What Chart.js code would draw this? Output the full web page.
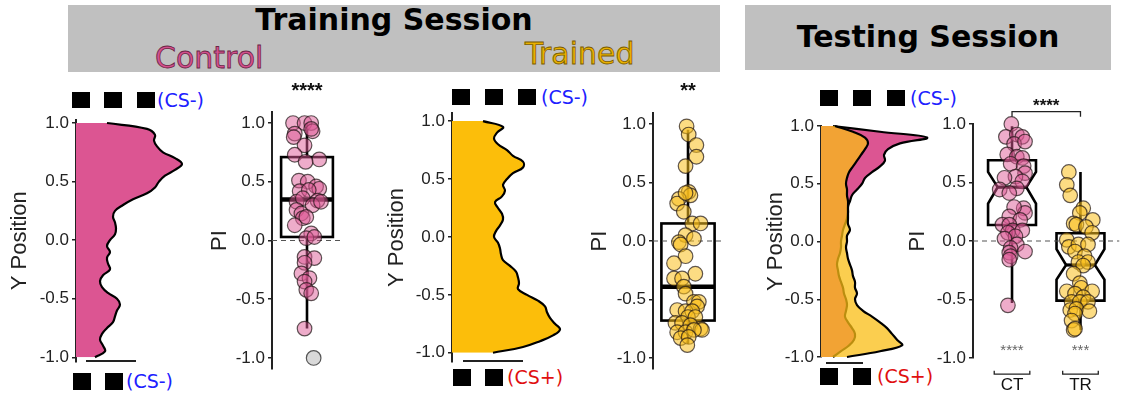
<!DOCTYPE html>
<html>
<head>
<meta charset="utf-8">
<script src="https://cdn.jsdelivr.net/npm/chart.js@4.4.1/dist/chart.umd.min.js"></script>
<style>
  body { margin: 0; background: #fff; }
  #fig { position: relative; width: 1128px; height: 394px; overflow: hidden; font-family: "DejaVu Sans", sans-serif; }
  #fig canvas { position: absolute; top: 78px; }
  .band { position: absolute; background: #c0c0c0; }
  .lab { position: absolute; white-space: nowrap; line-height: 1; }
  .head { font-weight: bold; font-size: 30px; color: #000; text-align: center; }
  .grp { font-size: 30px; }
  .cs { font-size: 19px; }
  .sq { position: absolute; width: 18px; height: 16px; background: #000; }
  .bar { position: absolute; height: 2px; background: #222; }
</style>
</head>
<body>
<div id="fig">
  <div class="band" style="left:68px;top:5px;width:652px;height:67px"></div>
  <div class="band" style="left:745px;top:5px;width:366px;height:65px"></div>
  <div class="lab head" style="left:68px;top:5px;width:652px">Training Session</div>
  <div class="lab head" style="left:745px;top:22px;width:366px">Testing Session</div>
  <div class="lab grp" style="left:155px;top:43px;color:#d4508c;-webkit-text-stroke:0.8px #6a2546">Control</div>
  <div class="lab grp" style="left:525px;top:39px;color:#eab000;-webkit-text-stroke:0.8px #7a5c00">Trained</div>

  <div class="sq" style="left:72px;top:92px"></div>
  <div class="sq" style="left:104px;top:92px"></div>
  <div class="sq" style="left:137px;top:92px"></div>
  <div class="lab cs" style="left:157px;top:91px;color:#2020ff">(CS-)</div>
  <div class="bar" style="left:86px;top:360px;width:50px"></div>
  <div class="sq" style="left:73px;top:373px;height:17px"></div>
  <div class="sq" style="left:105px;top:373px;height:17px"></div>
  <div class="lab cs" style="left:126px;top:372px;color:#2020ff">(CS-)</div>

  <div class="sq" style="left:452px;top:89px"></div>
  <div class="sq" style="left:485px;top:89px"></div>
  <div class="sq" style="left:518px;top:89px"></div>
  <div class="lab cs" style="left:541px;top:88px;color:#2020ff">(CS-)</div>
  <div class="bar" style="left:463px;top:360px;width:60px"></div>
  <div class="sq" style="left:453px;top:369px;height:17px"></div>
  <div class="sq" style="left:485px;top:369px;height:17px"></div>
  <div class="lab cs" style="left:507px;top:368px;color:#e01010">(CS+)</div>

  <div class="sq" style="left:820px;top:90px"></div>
  <div class="sq" style="left:853px;top:90px"></div>
  <div class="sq" style="left:887px;top:90px"></div>
  <div class="lab cs" style="left:910px;top:89px;color:#2020ff">(CS-)</div>
  <div class="bar" style="left:826px;top:362px;width:37px"></div>
  <div class="sq" style="left:820px;top:368px;height:17px"></div>
  <div class="sq" style="left:853px;top:368px;height:17px"></div>
  <div class="lab cs" style="left:877px;top:367px;color:#e01010">(CS+)</div>

  <canvas id="c1"></canvas>
  <canvas id="c2"></canvas>
  <canvas id="c3"></canvas>
  <canvas id="c4"></canvas>
  <canvas id="c5"></canvas>
  <canvas id="c6"></canvas>
</div>
<script>
// y positions where the densities are read, top to bottom
var posY = [1.0, 0.95, 0.9, 0.85, 0.8, 0.75, 0.7, 0.65, 0.6, 0.55, 0.5, 0.45, 0.4, 0.35, 0.3, 0.25, 0.2, 0.15, 0.1, 0.05, 0.0,
            -0.05, -0.1, -0.15, -0.2, -0.25, -0.3, -0.35, -0.4, -0.45, -0.5, -0.55, -0.6, -0.65, -0.7, -0.75, -0.8, -0.85, -0.9, -0.95, -1.0];
var yTicks = [-1, -0.5, 0, 0.5, 1];
var groups = ['CT', 'TR'];

// training densities
var densCtrlTrain = [0.31, 0.71, 0.79, 0.78, 0.81, 0.87, 0.99, 1.06, 0.99, 0.89, 0.83, 0.79, 0.71, 0.57, 0.47, 0.39, 0.37, 0.39, 0.40, 0.39, 0.34,
                     0.31, 0.34, 0.31, 0.32, 0.34, 0.27, 0.24, 0.26, 0.32, 0.41, 0.44, 0.41, 0.39, 0.37, 0.31, 0.26, 0.24, 0.27, 0.29, 0.19];
var densTrTrain = [0.31, 0.51, 0.45, 0.42, 0.46, 0.55, 0.61, 0.71, 0.71, 0.61, 0.55, 0.51, 0.53, 0.50, 0.43, 0.46, 0.50, 0.51, 0.48, 0.44, 0.42,
                   0.46, 0.48, 0.49, 0.51, 0.58, 0.64, 0.66, 0.67, 0.66, 0.75, 0.86, 0.93, 0.95, 0.98, 1.03, 1.08, 1.01, 0.88, 0.71, 0.41];
// testing densities
var densCtrlTest = [0.12, 0.59, 1.06, 0.79, 0.67, 0.63, 0.64, 0.59, 0.51, 0.44, 0.41, 0.36, 0.31, 0.29, 0.27, 0.27, 0.26, 0.24, 0.22, 0.21, 0.20,
                    0.20, 0.19, 0.17, 0.16, 0.17, 0.18, 0.20, 0.22, 0.23, 0.25, 0.26, 0.25, 0.24, 0.27, 0.31, 0.34, 0.33, 0.28, 0.20, 0.12];
var densTrTest = [0.14, 0.32, 0.44, 0.47, 0.44, 0.40, 0.36, 0.32, 0.28, 0.26, 0.25, 0.26, 0.26, 0.27, 0.27, 0.27, 0.27, 0.27, 0.29, 0.26, 0.26,
                  0.25, 0.26, 0.27, 0.29, 0.31, 0.32, 0.34, 0.34, 0.36, 0.34, 0.36, 0.42, 0.51, 0.59, 0.66, 0.71, 0.76, 0.81, 0.59, 0.26];

// training PI, control
var ctrlPI = [1.00, 1.00, 1.00, 0.91, 0.88, 0.93, 0.95, 0.81, 0.73, 0.69, 0.67, 0.51, 0.50, 0.46, 0.44, 0.42, 0.43, 0.33, 0.36, 0.34,
              0.30, 0.33, 0.26, 0.23, 0.19, 0.13, 0.20, 0.06, 0.02, 0.03, -0.14, -0.15, -0.19, -0.28, -0.32, -0.35, -0.42, -0.45, -0.75];
var ctrlJit = [-0.40, -0.07, 0.12, -0.35, -0.38, 0.16, 0.12, -0.07, -0.35, 0.35, -0.04, -0.23, 0.02, 0.26, 0.35, -0.21, 0.05, -0.30, -0.12, 0.30,
               0.16, 0.40, -0.30, -0.16, -0.12, -0.35, -0.02, 0.12, -0.02, 0.21, -0.07, 0.21, -0.07, -0.16, 0.07, -0.07, -0.02, 0.12, -0.07];
var ctrlOutPI = [-1.0];
var ctrlOutJit = [0.19];
var ctrlBox = [-0.75, 0.03, 0.35, 0.71, 1.0];   // lower whisker, q1, median, q3, upper whisker

// training PI, trained
var trPI = [0.98, 0.91, 0.82, 0.72, 0.64, 0.42, 0.39, 0.36, 0.32, 0.41, 0.25, 0.15, 0.15, 0.05, 0.02, -0.01, -0.03, -0.13, -0.19, -0.28, -0.32, -0.32,
            -0.39, -0.45, -0.52, -0.52, -0.56, -0.59, -0.60, -0.60, -0.65, -0.65, -0.70, -0.70, -0.72, -0.75, -0.76, -0.78, -0.78, -0.76, -0.83, -0.82, -0.89];
var trJit = [-0.04, 0.02, 0.24, 0.24, -0.07, 0.02, 0.07, -0.26, -0.31, -0.07, -0.12, 0.12, 0.36, -0.07, 0.17, -0.26, -0.21, -0.07, -0.40, 0.21, -0.40, -0.17,
             -0.12, -0.07, 0.17, 0.31, 0.26, -0.31, -0.07, 0.12, 0.00, 0.21, -0.36, -0.17, 0.07, 0.36, 0.40, -0.31, -0.07, 0.17, -0.21, 0.02, -0.02];
var trBox = [-0.88, -0.68, -0.39, 0.15, 0.95];

// testing PI
var ctTestPI = [1.00, 0.89, 0.91, 0.89, 0.83, 0.85, 0.74, 0.72, 0.71, 0.66, 0.64, 0.58, 0.55, 0.54, 0.51, 0.45, 0.44, 0.41, 0.28,
                0.24, 0.29, 0.21, 0.18, 0.14, 0.14, 0.09, 0.09, 0.07, 0.04, 0.02, -0.03, -0.06, -0.09, -0.10, -0.13, -0.16, -0.55];
var ctTestJit = [0.99, 0.91, 1.07, 1.15, 1.03, 1.19, 0.93, 1.07, 1.15, 0.98, 1.17, 1.19, 1.05, 0.89, 1.15, 1.07, 0.82, 0.96, 1.17,
                 1.19, 1.03, 0.96, 1.12, 0.86, 0.96, 1.01, 1.15, 0.94, 1.05, 0.89, 1.07, 0.98, 1.19, 0.96, 0.98, 0.96, 0.94];
var ctTestBox = [-0.53, 0.137, 0.46, 0.69, 0.98];
var ctTestNotch = [0.32, 0.59];
var trTestPI = [0.59, 0.48, 0.39, 0.28, 0.24, 0.18, 0.15, 0.14, 0.12, 0.07, 0.01, -0.05, -0.03, -0.03, -0.09, -0.13, -0.18, -0.18,
                -0.21, -0.28, -0.36, -0.40, -0.43, -0.43, -0.45, -0.48, -0.52, -0.52, -0.52, -0.59, -0.58, -0.60, -0.62, -0.68, -0.76, -0.75];
var trTestJit = [1.83, 1.80, 1.85, 2.04, 1.99, 2.18, 1.90, 1.94, 2.08, 2.17, 1.80, 1.83, 1.97, 2.11, 1.92, 2.06, 1.97, 2.11,
                 2.04, 1.90, 1.99, 2.01, 2.17, 1.80, 1.92, 2.04, 1.87, 1.99, 2.11, 1.85, 1.94, 2.13, 1.92, 1.87, 1.90, 1.92];
var trTestBox = [-0.76, -0.51, -0.205, 0.066, 0.59];
var trTestNotch = [-0.33, -0.07];

var PINK = '#dc5592', GOLD = '#fcbe0a';
var AXFONT = 'Liberation Sans';

function pts(xs, ys) {
    return xs.map(function (x, i) { return {x: x, y: ys[i]}; });
}
function dens(vals) {
    return posY.map(function (p, i) { return {x: vals[i], y: p}; });
}

var boxPlugin = {
    id: 'boxes',
    beforeDatasetsDraw: function (chart, args, opts) {
        var ctx = chart.ctx, xs = chart.scales.x, ys = chart.scales.y;
        (opts.items || []).forEach(function (b) {
            var p = b.stats.map(function (v) { return ys.getPixelForValue(v); });
            var xc = xs.getPixelForValue(b.x);
            var xl = xs.getPixelForValue(b.x - b.half), xr = xs.getPixelForValue(b.x + b.half);
            ctx.save();
            ctx.strokeStyle = '#000';
            ctx.lineWidth = b.lw;
            ctx.lineJoin = 'miter';
            ctx.beginPath();
            ctx.moveTo(xc, p[4]); ctx.lineTo(xc, p[3]);
            ctx.moveTo(xc, p[1]); ctx.lineTo(xc, p[0]);
            ctx.stroke();
            if (b.notch) {
                var nLo = ys.getPixelForValue(b.notch[0]), nHi = ys.getPixelForValue(b.notch[1]);
                var inL = xs.getPixelForValue(b.x - b.half * 0.6), inR = xs.getPixelForValue(b.x + b.half * 0.6);
                ctx.beginPath();
                ctx.moveTo(xl, p[3]); ctx.lineTo(xr, p[3]); ctx.lineTo(xr, nHi); ctx.lineTo(inR, p[2]);
                ctx.lineTo(xr, nLo); ctx.lineTo(xr, p[1]); ctx.lineTo(xl, p[1]); ctx.lineTo(xl, nLo);
                ctx.lineTo(inL, p[2]); ctx.lineTo(xl, nHi); ctx.closePath();
                ctx.stroke();
                ctx.lineWidth = b.mw;
                ctx.beginPath(); ctx.moveTo(inL, p[2]); ctx.lineTo(inR, p[2]); ctx.stroke();
            } else {
                ctx.strokeRect(xl, p[3], xr - xl, p[1] - p[3]);
                ctx.lineWidth = b.mw;
                ctx.beginPath(); ctx.moveTo(xl, p[2]); ctx.lineTo(xr, p[2]); ctx.stroke();
            }
            ctx.restore();
        });
    }
};

var notePlugin = {
    id: 'notes',
    afterDatasetsDraw: function (chart, args, opts) {
        var ctx = chart.ctx, xs = chart.scales.x, ys = chart.scales.y;
        ctx.save();
        ctx.strokeStyle = '#222';
        ctx.lineWidth = 1.3;
        (opts.brackets || []).forEach(function (b) {
            var x1 = xs.getPixelForValue(b.x1), x2 = xs.getPixelForValue(b.x2);
            var y = ys.getPixelForValue(b.y), y2 = ys.getPixelForValue(b.y2);
            ctx.beginPath();
            ctx.moveTo(x1, y2); ctx.lineTo(x1, y); ctx.lineTo(x2, y); ctx.lineTo(x2, y2);
            ctx.stroke();
        });
        ctx.textAlign = 'center';
        ctx.textBaseline = 'middle';
        (opts.texts || []).forEach(function (t) {
            ctx.font = (t.bold ? 'bold ' : '') + t.size + 'px "' + AXFONT + '"';
            ctx.fillStyle = t.color;
            ctx.fillText(t.t, xs.getPixelForValue(t.x), ys.getPixelForValue(t.y) + (t.star ? t.size * 0.25 : 0));
        });
        ctx.restore();
    }
};

function yAxis(g, title) {
    return {
        type: 'linear', min: g.ymin, max: g.ymax,
        afterBuildTicks: function (s) { s.ticks = yTicks.map(function (v) { return {value: v}; }); },
        afterFit: function (s) { s.width = g.axisX - g.left; },
        ticks: {
            callback: function (v) { return v.toFixed(1); },
            font: {family: AXFONT, size: 17}, color: '#222', padding: 3
        },
        grid: {display: true, drawOnChartArea: false, drawTicks: true, tickLength: 4, color: '#222', lineWidth: 1.5},
        border: {display: true, color: '#222', width: 2},
        title: {display: true, text: title, font: {family: AXFONT, size: 22}, color: '#222', padding: 0}
    };
}

function makeChart(id, g, type, datasets, extra) {
    var cv = document.getElementById(id);
    cv.width = Math.round(g.axisX - g.left + g.areaW + g.padR);
    cv.height = 316;
    cv.style.left = g.left + 'px';
    return new Chart(cv, {
        type: type,
        data: {datasets: datasets},
        options: {
            responsive: false,
            animation: false,
            devicePixelRatio: 1,
            indexAxis: extra.indexAxis || 'x',
            layout: {padding: {left: 0, right: g.padR, top: g.top - 78, bottom: 394 - g.bottom}},
            scales: {
                x: {type: 'linear', display: false, min: g.xmin, max: g.xmax},
                y: yAxis(g, extra.title)
            },
            plugins: {
                legend: {display: false},
                tooltip: {enabled: false},
                boxes: {items: extra.boxes || []},
                notes: {texts: extra.texts || [], brackets: extra.brackets || []}
            }
        },
        plugins: [boxPlugin, notePlugin]
    });
}

function densSet(vals, fillColor, order) {
    return {
        type: 'line', data: dens(vals), fill: 'origin', backgroundColor: fillColor,
        borderColor: '#000', borderWidth: 2.2, pointRadius: 0, tension: 0.4, order: order, clip: false
    };
}
function pointSet(xs, ys, fill, edge) {
    return {
        type: 'scatter', data: pts(xs, ys), backgroundColor: fill, borderColor: edge,
        borderWidth: 1.2, pointRadius: 7.3, clip: false, order: 0
    };
}
function zeroLine(x0, x1) {
    return {
        type: 'line', data: [{x: x0, y: 0}, {x: x1, y: 0}], borderColor: '#555', borderWidth: 1.2,
        borderDash: [5, 4], pointRadius: 0, fill: false, order: 5
    };
}

var PINKPT = 'rgba(222,90,150,0.5)', GOLDPT = 'rgba(250,192,30,0.55)', EDGE = 'rgba(30,20,20,0.7)';

// Training, control
makeChart('c1', {left: 7, axisX: 76, areaW: 150, padR: 14, top: 119.5, bottom: 362, ymin: -1.04, ymax: 1.03, xmin: 0, xmax: 1.5},
    'line', [densSet(densCtrlTrain, PINK, 1)], {indexAxis: 'y', title: 'Y Position'});
makeChart('c2', {left: 207, axisX: 272, areaW: 70, padR: 14, top: 112, bottom: 369, ymin: -1.094, ymax: 1.094, xmin: -1, xmax: 1},
    'scatter', [zeroLine(-1, 1), pointSet(ctrlJit, ctrlPI, PINKPT, EDGE), pointSet(ctrlOutJit, ctrlOutPI, '#d9d9d9', '#555')],
    {title: 'PI', boxes: [{x: 0, half: 0.74, stats: ctrlBox, lw: 2.6, mw: 4.5}],
     texts: [{t: '****', x: 0, y: 1.315, size: 20, bold: true, color: '#111', star: true}]});

// Training, trained
makeChart('c3', {left: 384, axisX: 452, areaW: 150, padR: 14, top: 113, bottom: 362, ymin: -1.08, ymax: 1.07, xmin: 0, xmax: 1.5},
    'line', [densSet(densTrTrain, GOLD, 1)], {indexAxis: 'y', title: 'Y Position'});
makeChart('c4', {left: 587, axisX: 653, areaW: 70, padR: 14, top: 113, bottom: 369, ymin: -1.094, ymax: 1.094, xmin: -1, xmax: 1},
    'scatter', [zeroLine(-1, 1), pointSet(trJit, trPI, GOLDPT, EDGE)],
    {title: 'PI', boxes: [{x: 0, half: 0.76, stats: trBox, lw: 2.6, mw: 4.5}],
     texts: [{t: '**', x: 0, y: 1.32, size: 20, bold: true, color: '#111', star: true}]});

// Testing
makeChart('c5', {left: 763, axisX: 821, areaW: 150, padR: 14, top: 126, bottom: 357, ymin: -1, ymax: 1, xmin: 0, xmax: 1.5},
    'line', [densSet(densCtrlTest, PINK, 2), densSet(densTrTest, 'rgba(250,190,20,0.75)', 1)],
    {indexAxis: 'y', title: 'Y Position'});
makeChart('c6', {left: 905, axisX: 973, areaW: 152, padR: 3, top: 124, bottom: 358, ymin: -1, ymax: 1, xmin: 0.43, xmax: 2.57},
    'scatter', [zeroLine(0.43, 2.57), pointSet(ctTestJit, ctTestPI, PINKPT, EDGE), pointSet(trTestJit, trTestPI, GOLDPT, EDGE)],
    {title: 'PI',
     boxes: [{x: 1, half: 0.35, stats: ctTestBox, notch: ctTestNotch, lw: 2.6, mw: 3.2},
             {x: 2, half: 0.35, stats: trTestBox, notch: trTestNotch, lw: 2.6, mw: 3.2}],
     brackets: [{x1: 1, x2: 2, y: 1.105, y2: 1.062},
                {x1: 0.74, x2: 1.26, y: -1.137, y2: -1.109},
                {x1: 1.74, x2: 2.26, y: -1.137, y2: -1.109}],
     texts: [{t: '****', x: 1.5, y: 1.19, size: 17, bold: true, color: '#111', star: true},
             {t: '****', x: 1, y: -0.906, size: 15, color: '#666', star: true},
             {t: '***', x: 2, y: -0.906, size: 15, color: '#666', star: true},
             {t: groups[0], x: 1, y: -1.23, size: 17, color: '#111'},
             {t: groups[1], x: 2, y: -1.23, size: 17, color: '#111'}]});
</script>
</body>
</html>
